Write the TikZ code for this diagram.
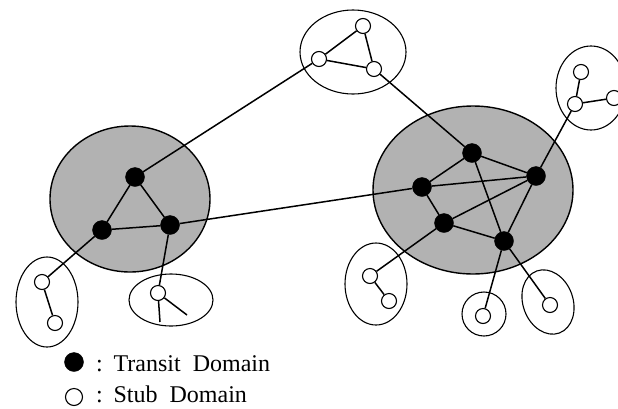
\documentclass[tikz,border=0pt]{standalone}
\usepackage{fontspec}
\setmainfont{Liberation Serif}
\begin{document}
\begin{tikzpicture}[x=1pt,y=-1pt,
  tnode/.style={circle,fill=black,draw=black,minimum size=19pt,inner sep=0pt},
  snode/.style={circle,fill=white,draw=black,line width=1.1pt,minimum size=15pt,inner sep=0pt},
  link/.style={line width=1.5pt},
  stubring/.style={line width=1.1pt},
  transitarea/.style={line width=1.4pt,fill=black!30},
  lbl/.style={anchor=base west,inner sep=0pt,font=\fontsize{24}{28}\selectfont}]
\useasboundingbox (0,0) rectangle (618,408);
\clip (0,0) rectangle (618,408);
% transit domain areas
\draw[transitarea] (130,199) ellipse [x radius=80,y radius=73];
\draw[transitarea] (473,190) ellipse [x radius=100,y radius=84];
% stub domain outlines
\draw[stubring] (353,52) ellipse [x radius=53,y radius=42];
\draw[stubring] (591,88) ellipse [x radius=35,y radius=42];
\draw[stubring] (47,302) ellipse [x radius=31,y radius=45];
\draw[stubring] (171,300) ellipse [x radius=42,y radius=26];
\draw[stubring] (376,284) ellipse [x radius=31,y radius=41];
\draw[stubring] (484,314) ellipse [x radius=22,y radius=22];
\draw[stubring,rotate around={20:(548,302)}] (548,302) ellipse [x radius=25,y radius=33];
% transit nodes
\node[tnode] (L1) at (135,177) {};
\node[tnode] (L2) at (102,230) {};
\node[tnode] (L3) at (170,225) {};
\node[tnode] (RA) at (472,153) {};
\node[tnode] (RB) at (422,187) {};
\node[tnode] (RC) at (536,176) {};
\node[tnode] (RD) at (444,223) {};
\node[tnode] (RE) at (504,241) {};
% stub nodes
\node[snode] (T1) at (363,26) {};
\node[snode] (T2) at (319,59) {};
\node[snode] (T3) at (374,69) {};
\node[snode] (Q1) at (581,72) {};
\node[snode] (Q2) at (575,104) {};
\node[snode] (Q3) at (614,98) {};
\node[snode] (P1) at (42,282) {};
\node[snode] (P2) at (55,323) {};
\node[snode] (M1) at (158,293) {};
\coordinate (M2) at (160,322);
\coordinate (M3) at (187,315);
\node[snode] (S1) at (370,276) {};
\node[snode] (S2) at (389,301) {};
\node[snode] (U1) at (483,316) {};
\node[snode] (V1) at (550,305) {};
% links
\draw[link] (L1) -- (L2);
\draw[link] (L1) -- (L3);
\draw[link] (L2) -- (L3);
\draw[link] (L1) -- (T2);
\draw[link] (L3) -- (RB);
\draw[link] (L2) -- (P1);
\draw[link] (L3) -- (M1);
\draw[link] (M1) -- (M2);
\draw[link] (M1) -- (M3);
\draw[link] (P1) -- (P2);
\draw[link] (T1) -- (T2);
\draw[link] (T1) -- (T3);
\draw[link] (T2) -- (T3);
\draw[link] (T3) -- (RA);
\draw[link] (RA) -- (RB);
\draw[link] (RA) -- (RC);
\draw[link] (RB) -- (RC);
\draw[link] (RB) -- (RD);
\draw[link] (RD) -- (RC);
\draw[link] (RD) -- (RE);
\draw[link] (RA) -- (RE);
\draw[link] (RC) -- (RE);
\draw[link] (RC) -- (Q2);
\draw[link] (Q1) -- (Q2);
\draw[link] (Q2) -- (Q3);
\draw[link] (RD) -- (S1);
\draw[link] (S1) -- (S2);
\draw[link] (RE) -- (U1);
\draw[link] (RE) -- (V1);
% legend
\node[tnode,minimum size=19pt] (legT) at (74,362) {};
\node[snode,minimum size=17pt] (legS) at (74,397) {};
\node[lbl] (txtT) at (96,371) {:\hspace{0.45em}Transit\hspace{0.5em}Domain};
\node[lbl] (txtS) at (96,402) {:\hspace{0.45em}Stub\hspace{0.5em}Domain};
\end{tikzpicture}
\end{document}
